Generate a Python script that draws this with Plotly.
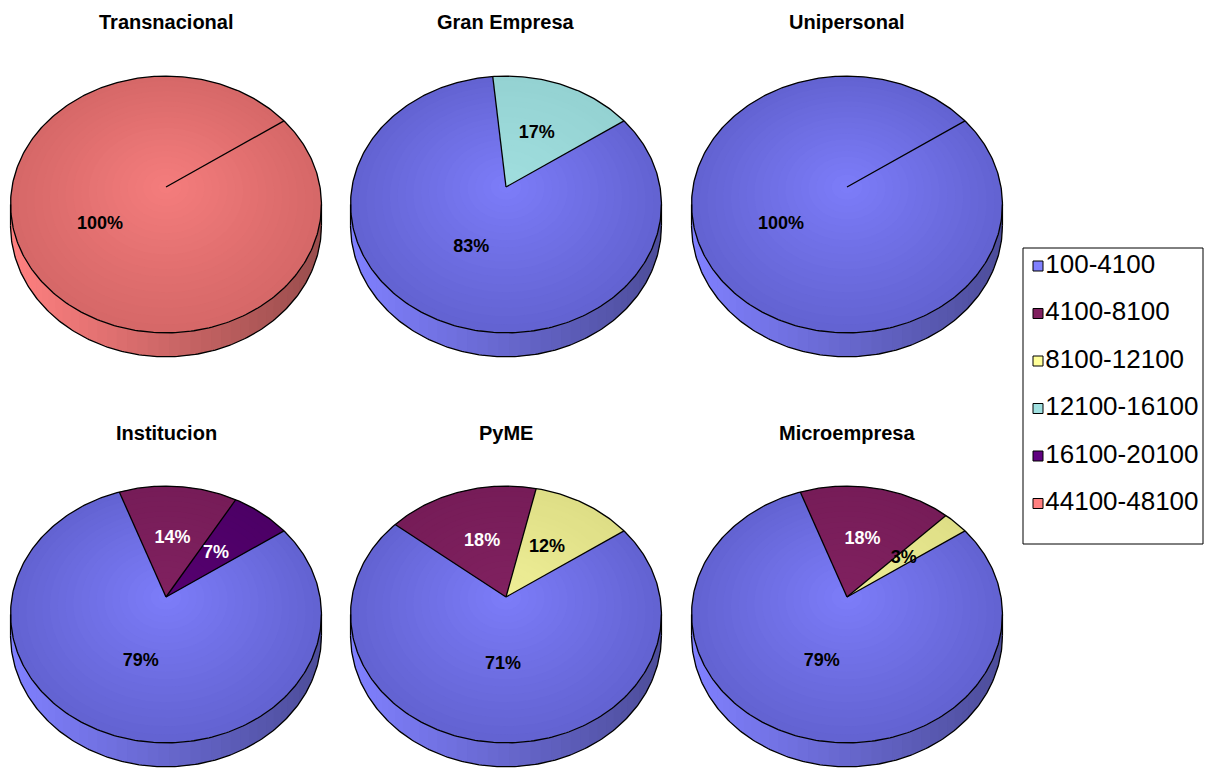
import numpy as np
import plotly.graph_objects as go

# ---------------- data ----------------
categories = ["100-4100", "4100-8100", "8100-12100", "12100-16100", "16100-20100", "44100-48100"]
panel_titles = ["Transnacional", "Gran Empresa", "Unipersonal", "Institucion", "PyME", "Microempresa"]
transnacional = [0, 0, 0, 0, 0, 100]
gran_empresa = [83, 0, 0, 17, 0, 0]
unipersonal = [100, 0, 0, 0, 0, 0]
institucion = [79, 14, 0, 0, 7, 0]
pyme = [71, 18, 12, 0, 0, 0]
microempresa = [79, 18, 3, 0, 0, 0]
panel_values = [transnacional, gran_empresa, unipersonal, institucion, pyme, microempresa]

# ---------------- styling ----------------
swatch_colors = ["#8080FF", "#80205F", "#FFFF99", "#A0E0E0", "#600080", "#FF8080"]
face_edge = ["#6363D2", "#761C58", "#DEDE86", "#94D2D2", "#4C0066", "#D66868"]
face_center = ["#7C7CF8", "#80215F", "#EEEE96", "#A0DEDE", "#56006F", "#F47C7C"]
side_light = ["#8080FF", "#80205F", "#F0F090", "#A0E0E0", "#600080", "#FF8080"]
label_colors = ["black", "white", "black", "black", "white", "black"]

W, H = 1214, 768
col_x = [166, 506, 847]
row_y = [187, 597]
title_y = [22, 433]
RX, RY, PERSP, DEPTH = 154.0, 126.0, 0.136, 20.7
START = 55.6          # first slice starts here (degrees clockwise from 12 o'clock)
LEVELS = 20           # radial shading steps on the top face
SIDE_STRIPS = 48      # shading steps on the rim

BOLD_FONT = "Liberation Sans, Arial, sans-serif"


def hex_rgb(h):
    h = h.lstrip("#")
    return np.array([int(h[i:i + 2], 16) for i in (0, 2, 4)], dtype=float)


def rgb_str(c):
    c = np.clip(np.round(c), 0, 255).astype(int)
    return f"rgb({c[0]},{c[1]},{c[2]})"


def proj(cx, cy, r, phi_deg, z=0.0):
    p = np.radians(phi_deg)
    X = r * np.sin(p)
    Y = r * np.cos(p)
    d = 1 + PERSP * Y
    return cx + RX * X / d, cy - RY * Y / d + DEPTH * z / d


def slice_spans(values):
    total = float(sum(values))
    spans = []
    a = START
    for i, v in enumerate(values):
        if v <= 0:
            continue
        span = 360.0 * v / total
        spans.append((i, a, a + span, v))
        a += span
    return spans


def slice_at(spans, phi):
    for i, a0, a1, _ in spans:
        for k in (-360, 0, 360):
            if a0 <= phi + k < a1:
                return i
    return spans[0][0]


fills = {}


def add_poly(key, color, xs, ys):
    entry = fills.setdefault((key, color), ([], []))
    entry[0].extend(list(xs) + [None])
    entry[1].extend(list(ys) + [None])


outline_x, outline_y = [], []
lab_x, lab_y, lab_t, lab_c = [], [], [], []
annotations = []

sil = np.degrees(np.arccos(-PERSP))          # rim silhouette angles
x_ext = RX / np.sqrt(1 - PERSP ** 2)

for p, (title, values) in enumerate(zip(panel_titles, panel_values)):
    cx = col_x[p % 3]
    cy = row_y[p // 3]
    spans = slice_spans(values)

    # rim (front half of the cylinder)
    step = (360 - 2 * sil) / SIDE_STRIPS
    for s in range(SIDE_STRIPS):
        a0 = sil + s * step - 0.3 * step
        a1 = sil + (s + 1) * step + 0.3 * step
        a0, a1 = max(a0, sil), min(a1, 360 - sil)
        am = sil + (s + 0.5) * step
        ci = slice_at(spans, am)
        xm, _ = proj(cx, cy, 1, am)
        t = (xm - (cx - x_ext)) / (2 * x_ext)
        base = hex_rgb(side_light[ci])
        col = rgb_str(base * (1.0 - 0.4 * t))
        ang = np.linspace(a0, a1, 4)
        tx, ty = proj(cx, cy, 1, ang, 0)
        bx, by = proj(cx, cy, 1, ang[::-1], 1)
        add_poly((0, s), col, np.r_[tx, bx], np.r_[ty, by])

    # top face with radial shading
    for lvl in range(LEVELS):
        r = 1 - lvl / LEVELS
        f = lvl / (LEVELS - 1)
        for ci, a0, a1, v in spans:
            col = rgb_str(hex_rgb(face_edge[ci]) * (1 - f) + hex_rgb(face_center[ci]) * f)
            n = max(6, int((a1 - a0) / 1.5))
            ang = np.linspace(a0, a1, n)
            ax, ay = proj(cx, cy, r, ang)
            if a1 - a0 >= 359.99:
                add_poly((1, lvl), col, ax, ay)
            else:
                add_poly((1, lvl), col, np.r_[cx, ax, cx], np.r_[cy, ay, cy])

    # outlines
    ang = np.linspace(0, 360, 361)
    ex, ey = proj(cx, cy, 1, ang)
    outline_x += list(ex) + [None]
    outline_y += list(ey) + [None]
    ang = np.linspace(sil, 360 - sil, 200)
    bx, by = proj(cx, cy, 1, ang, 1)
    outline_x += list(bx) + [None]
    outline_y += list(by) + [None]
    for a in (sil, 360 - sil):
        x0, y0 = proj(cx, cy, 1, a, 0)
        x1, y1 = proj(cx, cy, 1, a, 1)
        outline_x += [x0, x1, None]
        outline_y += [y0, y1, None]
    for ci, a0, a1, v in spans:
        x1, y1 = proj(cx, cy, 1, a0)
        outline_x += [cx, x1, None]
        outline_y += [cy, y1, None]

    # percentage labels
    for ci, a0, a1, v in spans:
        lx, ly = proj(cx, cy, 0.5, (a0 + a1) / 2)
        lab_x.append(lx)
        lab_y.append(ly)
        lab_t.append(f"<b>{v}%</b>")
        lab_c.append(label_colors[ci])

    annotations.append(dict(x=cx, y=title_y[p // 3], xref="x", yref="y", text=f"<b>{title}</b>",
                            showarrow=False, font=dict(family=BOLD_FONT, size=20, color="black")))

fig = go.Figure()
for (key, color) in sorted(fills.keys(), key=lambda k: k[0]):
    xs, ys = fills[(key, color)]
    fig.add_trace(go.Scatter(x=xs, y=ys, mode="lines", fill="toself", fillcolor=color,
                             line=dict(width=0, color=color), hoverinfo="skip"))

fig.add_trace(go.Scatter(x=outline_x, y=outline_y, mode="lines",
                         line=dict(color="black", width=1.3), hoverinfo="skip"))

fig.add_trace(go.Scatter(x=lab_x, y=lab_y, mode="text", text=lab_t,
                         textfont=dict(family=BOLD_FONT, size=18, color=lab_c), hoverinfo="skip"))

# legend
leg_x0, leg_y0, leg_x1, leg_y1 = 1023, 248, 1203, 544
row_gap = 47.5
fig.add_shape(type="rect", x0=leg_x0, y0=leg_y0, x1=leg_x1, y1=leg_y1, xref="x", yref="y",
              line=dict(color="black", width=1), fillcolor="white", layer="below")
fig.add_trace(go.Scatter(
    x=[leg_x0 + 15] * len(categories),
    y=[leg_y0 + 18 + row_gap * i for i in range(len(categories))],
    mode="markers+text", text=categories, textposition="middle right",
    marker=dict(symbol="square", size=10, color=swatch_colors, line=dict(color="black", width=1)),
    textfont=dict(family="Liberation Sans, Arial, sans-serif", size=26, color="black"),
    hoverinfo="skip"))

fig.update_layout(
    width=W, height=H, margin=dict(l=0, r=0, t=0, b=0),
    paper_bgcolor="white", plot_bgcolor="white", showlegend=False,
    xaxis=dict(range=[0, W], visible=False, fixedrange=True),
    yaxis=dict(range=[H, 0], visible=False, fixedrange=True),
    annotations=annotations,
)

fig.write_html("out.html")
